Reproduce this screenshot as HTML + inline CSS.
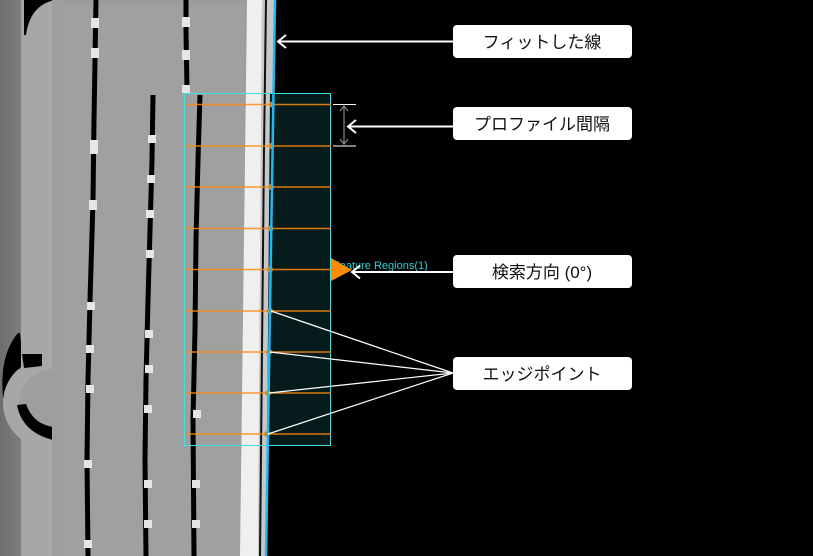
<!DOCTYPE html>
<html><head><meta charset="utf-8"><style>
html,body{margin:0;padding:0;background:#000;width:813px;height:556px;overflow:hidden}
svg{display:block}
.lb{font-family:"Liberation Sans","Noto Sans CJK JP",sans-serif;font-size:17px;fill:#111}
</style></head><body>
<svg width="813" height="556" viewBox="0 0 813 556" xmlns="http://www.w3.org/2000/svg">
<defs>
<linearGradient id="lg" x1="0" x2="1"><stop offset="0" stop-color="#6e6e6e"/><stop offset="1" stop-color="#7e7e7e"/></linearGradient>
<clipPath id="lc"><rect x="0" y="300" width="52" height="180"/></clipPath>
</defs>
<rect width="813" height="556" fill="#000"/>
<polygon points="0,0 275,0 266,556 0,556" fill="#9c9c9c"/>
<rect x="0" y="0" width="21" height="556" fill="url(#lg)"/>
<rect x="21" y="0" width="31" height="556" fill="#a7a7a7"/>
<path d="M24,0 L55,0 Q30,5 26,35 L24,35 Z" fill="#000"/>
<rect x="64" y="6" width="180" height="550" fill="#a0a0a0"/>
<rect x="52" y="0" width="12" height="556" fill="#9e9e9e"/>
<!-- notch -->
<g clip-path="url(#lc)">
<path d="M18,333 Q-1,355 3,398 L14,392 Q16,376 24,368 L42,367 L42,353 L22,354 L20,333 Z" fill="#000"/>
<circle cx="48" cy="403" r="45" fill="#a7a7a7"/>
<rect x="21" y="300" width="31" height="68" fill="#a7a7a7"/>
<path d="M20,340 Q14,360 20,370 L20,340Z" fill="#000"/>
<path d="M22,354 L42,354 L42,366 L24,368 Z" fill="#000"/>
<circle cx="54" cy="404" r="35" fill="#9e9e9e"/>
<path d="M17,405 Q22,432 53,440 L53,427 Q33,424 26,404 Z" fill="#000"/>
<rect x="21" y="445" width="31" height="40" fill="#a7a7a7"/>
</g>
<polygon points="247,0 262,0 258,556 240,556" fill="#efefef"/>
<polygon points="262,0 275,0 266,556 258,556" fill="#c8c8c8"/>
<polyline points="266,0 264,150 262,350 260,556" stroke="#111" stroke-width="2" fill="none"/>
<g stroke="#000" stroke-width="5" fill="none">
<polyline points="96,0 95,60 94,120 93,200 90,300 88,380 87,460 88,556"/>
<polyline points="153,95 152,160 150,230 148,300 146,380 145,460 146,556"/>
<polyline points="186,0 186,30 187,90"/>
<polyline points="200,95 198,160 196,240 195,330 193,420 194,556"/>
</g>
<g fill="#e6e6e6">
<rect x="91" y="18" width="8" height="10"/><rect x="91" y="48" width="8" height="10"/><rect x="90" y="140" width="8" height="14"/><rect x="89" y="200" width="8" height="10"/><rect x="87" y="302" width="8" height="8"/><rect x="86" y="345" width="8" height="8"/><rect x="86" y="385" width="8" height="8"/><rect x="84" y="460" width="8" height="8"/><rect x="84" y="540" width="8" height="8"/>
<rect x="148" y="135" width="8" height="8"/><rect x="147" y="175" width="8" height="8"/><rect x="146" y="210" width="8" height="8"/><rect x="146" y="250" width="8" height="8"/><rect x="145" y="330" width="8" height="8"/><rect x="145" y="365" width="8" height="8"/><rect x="144" y="405" width="8" height="8"/><rect x="144" y="480" width="8" height="8"/><rect x="144" y="520" width="8" height="8"/>
<rect x="182" y="17" width="8" height="10"/><rect x="182" y="50" width="8" height="10"/><rect x="182" y="85" width="8" height="8"/>
<rect x="193" y="410" width="8" height="8"/><rect x="192" y="480" width="8" height="8"/><rect x="192" y="520" width="8" height="8"/>
</g>
<polygon points="270,93 331,93 331,446 267,446" fill="#061c1c"/>
<rect x="184.5" y="93.5" width="146" height="352" fill="none" stroke="#3fe0e0" stroke-width="1"/>
<g stroke="#ff8a10" stroke-width="1.5" opacity="0.85">
<line x1="185" y1="104.5" x2="331" y2="104.5"/><line x1="185" y1="146" x2="331" y2="146"/><line x1="185" y1="187" x2="331" y2="187"/><line x1="185" y1="228.5" x2="331" y2="228.5"/><line x1="185" y1="269.5" x2="331" y2="269.5"/><line x1="185" y1="311" x2="331" y2="311"/><line x1="185" y1="352" x2="331" y2="352"/><line x1="185" y1="393" x2="331" y2="393"/><line x1="185" y1="434" x2="331" y2="434"/>
</g>
<g fill="#d88a10">
<circle cx="272" cy="104.5" r="3"/><circle cx="271.5" cy="146" r="3"/><circle cx="271" cy="187" r="3"/><circle cx="270.5" cy="228.5" r="3"/><circle cx="270" cy="269.5" r="3"/><circle cx="270" cy="311" r="3"/><circle cx="269" cy="352" r="3"/><circle cx="268" cy="393" r="3"/><circle cx="267" cy="434" r="3"/>
</g>
<line x1="275" y1="0" x2="266" y2="556" stroke="#20b8f0" stroke-width="2.5"/>
<text x="333" y="269" font-family="Liberation Sans,sans-serif" font-size="11" fill="#2ad0d0">Feature Regions(1)</text>
<polygon points="331,258 352,270 331,281" fill="#ff8c00"/>
<g stroke="#fff" stroke-width="1"><line x1="333" y1="104.5" x2="356" y2="104.5"/><line x1="333" y1="146" x2="356" y2="146"/></g>
<g stroke="#888" stroke-width="1.2" fill="none"><line x1="344" y1="106" x2="344" y2="144"/><polyline points="340,111 344,106 348,111"/><polyline points="340,139 344,144 348,139"/></g>
<g stroke="#fff" stroke-width="2" fill="none">
<line x1="453" y1="41.5" x2="278" y2="41.5"/><polyline points="286,35 278,41.5 286,48"/>
<line x1="453" y1="126.5" x2="348" y2="126.5"/><polyline points="356,120 348,126.5 356,133"/>
<line x1="453" y1="272" x2="352" y2="272"/><polyline points="360,265.5 352,272 360,278.5"/>
</g>
<g stroke="#fff" stroke-width="1.2">
<line x1="453" y1="373" x2="271" y2="311"/><line x1="453" y1="373" x2="270" y2="352"/><line x1="453" y1="373" x2="269" y2="393"/><line x1="453" y1="373" x2="268" y2="434"/>
</g>
<g fill="#fff">
<rect x="453" y="25" width="179" height="33" rx="4"/>
<rect x="453" y="107" width="179" height="33" rx="4"/>
<rect x="453" y="255" width="179" height="33" rx="4"/>
<rect x="453" y="357" width="179" height="33" rx="4"/>
</g>
<text class="lb" x="542" y="48" text-anchor="middle">フィットした線</text>
<text class="lb" x="542" y="130" text-anchor="middle">プロファイル間隔</text>
<text class="lb" x="542" y="278" text-anchor="middle">検索方向 (0°)</text>
<text class="lb" x="542" y="380" text-anchor="middle">エッジポイント</text>
</svg>
</body></html>
